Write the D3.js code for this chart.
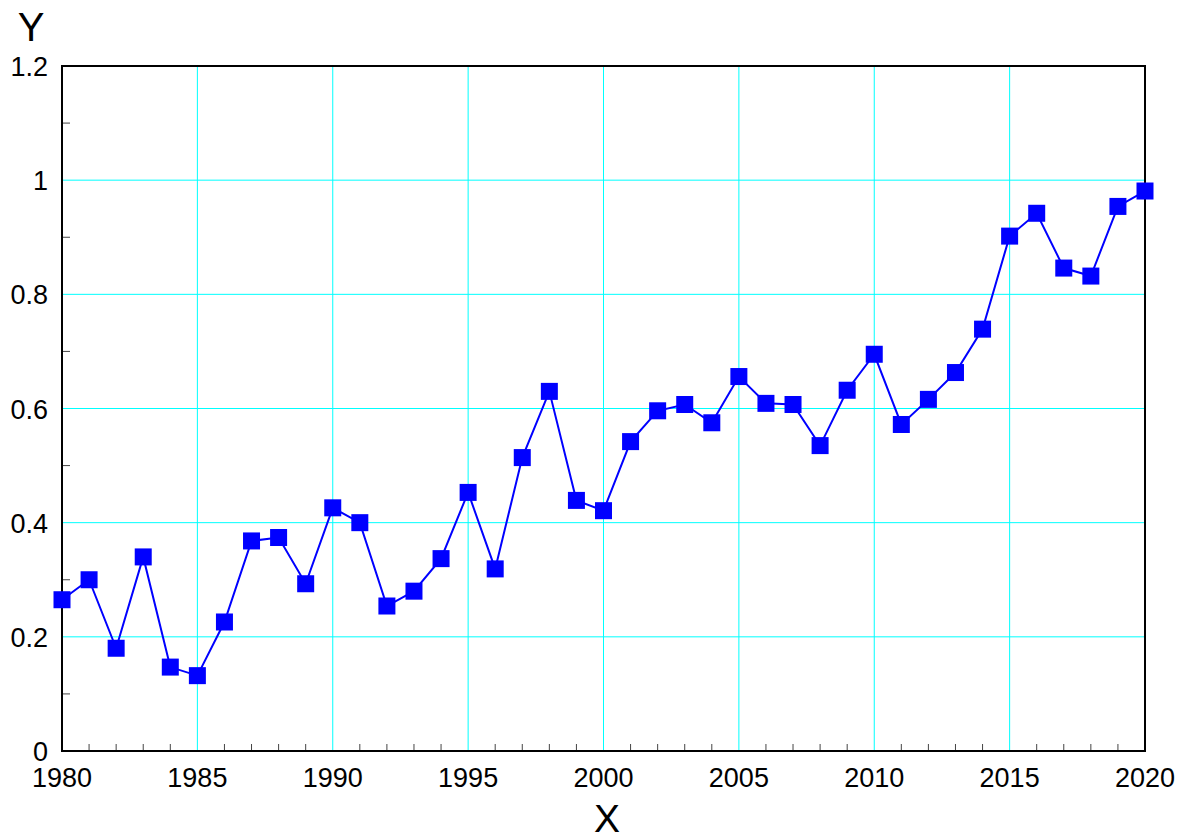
<!DOCTYPE html>
<html><head><meta charset="utf-8">
<script src="https://cdn.jsdelivr.net/npm/d3@7"></script>
<style>body{margin:0;background:#fff}svg{display:block;font-family:"Liberation Sans",Arial,sans-serif}</style>
</head><body><svg id="c" width="1187" height="834"></svg>
<script>
const years = d3.range(1980, 2021);
const values = [0.265,0.30,0.18,0.34,0.147,0.132,0.226,0.368,0.374,0.293,
0.426,0.40,0.254,0.28,0.337,0.453,0.319,0.514,0.63,0.439,
0.421,0.542,0.596,0.607,0.575,0.656,0.609,0.607,0.535,0.632,
0.695,0.572,0.616,0.663,0.739,0.902,0.942,0.846,0.832,0.954,0.981];
const xTicks = [1980,1985,1990,1995,2000,2005,2010,2015,2020];
const yTicks = [0,0.2,0.4,0.6,0.8,1,1.2];
const yTickLabels = ["0","0.2","0.4","0.6","0.8","1","1.2"];

const svg = d3.select("#c");
const L=62, R=1145, T=66, B=751;
const x = d3.scaleLinear().domain([1980,2020]).range([L,R]);
const y = d3.scaleLinear().domain([0,1.2]).range([B,T]);

// grid
svg.append("g").selectAll("line").data(xTicks.slice(1,-1)).join("line")
 .attr("x1",d=>x(d)).attr("x2",d=>x(d)).attr("y1",T).attr("y2",B)
 .attr("stroke","#00ffff").attr("stroke-width",1);
svg.append("g").selectAll("line").data(yTicks.slice(1,-1)).join("line")
 .attr("x1",L).attr("x2",R).attr("y1",d=>y(d)).attr("y2",d=>y(d))
 .attr("stroke","#00ffff").attr("stroke-width",1);

// minor ticks
svg.append("g").selectAll("line").data(years.filter(d=>d%5!==0)).join("line")
 .attr("x1",d=>x(d)).attr("x2",d=>x(d)).attr("y1",B).attr("y2",B-7)
 .attr("stroke","#444").attr("stroke-width",1);
svg.append("g").selectAll("line").data(d3.range(0.1,1.2,0.2)).join("line")
 .attr("x1",L).attr("x2",L+8).attr("y1",d=>y(d)).attr("y2",d=>y(d))
 .attr("stroke","#444").attr("stroke-width",1);

// frame
svg.append("rect").attr("x",L).attr("y",T).attr("width",R-L).attr("height",B-T)
 .attr("fill","none").attr("stroke","#000").attr("stroke-width",2);

// tick labels
svg.append("g").selectAll("text").data(xTicks).join("text")
 .attr("x",d=>x(d)).attr("y",B+36).attr("text-anchor","middle")
 .attr("font-size",27).text(d=>d);
svg.append("g").selectAll("text").data(yTicks).join("text")
 .attr("x",L-14).attr("y",d=>y(d)+10).attr("text-anchor","end")
 .attr("font-size",27).text((d,i)=>yTickLabels[i]);

svg.append("text").attr("x",607).attr("y",832).attr("text-anchor","middle").attr("font-size",39).text("X");
svg.append("text").attr("x",31).attr("y",41).attr("text-anchor","middle").attr("font-size",40).text("Y");

// line
svg.append("path").datum(values).attr("fill","none").attr("stroke","#0000ff").attr("stroke-width",2)
 .attr("d",d3.line().x((d,i)=>x(years[i])).y(d=>y(d)));
const s=17;
svg.append("g").selectAll("rect").data(values).join("rect")
 .attr("x",(d,i)=>x(years[i])-s/2).attr("y",d=>y(d)-s/2).attr("width",s).attr("height",s)
 .attr("fill","#0000ff");
</script></body></html>
